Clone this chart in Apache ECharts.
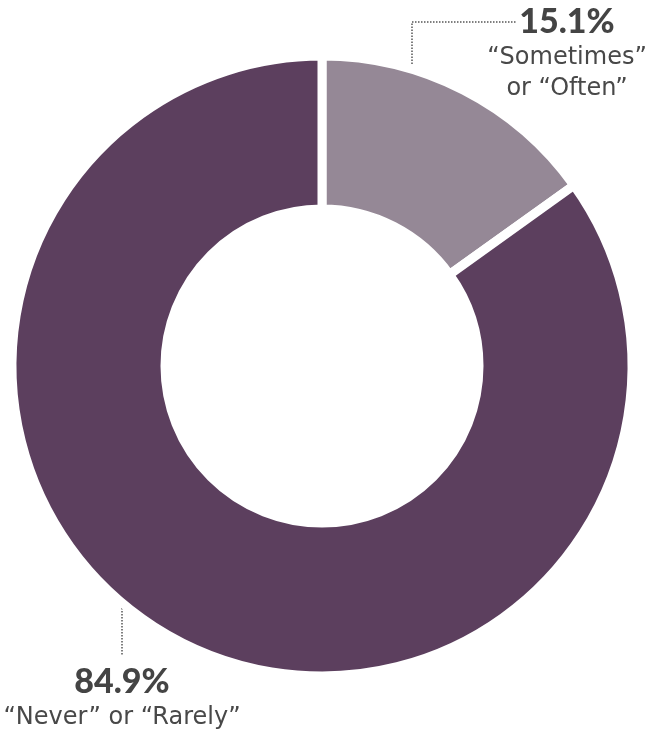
<!DOCTYPE html>
<html>
<head>
<meta charset="utf-8">
<script src="https://cdn.jsdelivr.net/npm/echarts@6/dist/echarts.min.js"></script>
<style>
  html, body { margin: 0; padding: 0; background: #fff; }
  #chart { width: 662px; height: 734px; }
</style>
</head>
<body>
<div id="chart"></div>
<script>
// data
const categories = ['“Sometimes”\nor “Often”', '“Never” or “Rarely”']
const values = [15.1, 84.9]
const colors = ['#958896', '#5c3f5e']

// label placement (top block, bottom block)
const labelSpots = [
  { x: 567, y: 3, line: [[412, 64], [412, 22], [516, 22]] },
  { x: 122, y: 663, line: [[122, 608], [122, 656]] }
]

const chart = echarts.init(document.getElementById('chart'))

const option = {
  animation: false,
  series: [
    {
      type: 'pie',
      center: [322, 366],
      radius: [157, 310],
      startAngle: 90,
      clockwise: true,
      avoidLabelOverlap: false,
      data: categories.map((name, i) => ({
        name: name,
        value: values[i],
        itemStyle: { color: colors[i] }
      })),
      itemStyle: {
        borderColor: '#fff',
        borderWidth: 9
      },
      label: {
        show: true,
        position: 'outside',
        formatter: p => '{pct|' + p.value.toFixed(1) + '%}\n{txt|' +
          p.name.split('\n').join('}\n{txt|') + '}',
        rich: {
          pct: {
            fontFamily: 'Lato',
            fontWeight: 900,
            fontSize: 34,
            lineHeight: 39,
            color: '#444',
            align: 'center'
          },
          txt: {
            fontFamily: 'DejaVu Sans',
            fontSize: 24,
            lineHeight: 31,
            color: '#484848',
            align: 'center'
          }
        }
      },
      labelLine: {
        show: true,
        lineStyle: { type: 'dotted', color: '#555', width: 1.5 }
      },
      labelLayout: p => {
        const s = labelSpots[p.dataIndex]
        return {
          x: s.x,
          y: s.y,
          align: 'center',
          verticalAlign: 'top',
          labelLinePoints: s.line
        }
      },
      emphasis: { disabled: true }
    }
  ]
}

chart.setOption(option)
</script>
</body>
</html>
